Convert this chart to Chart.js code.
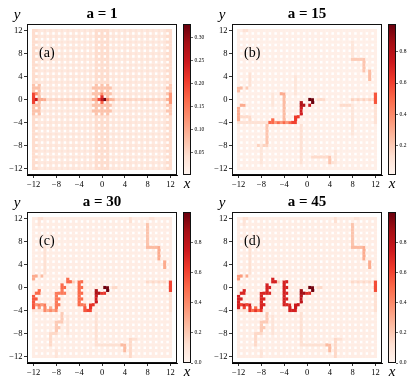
<!DOCTYPE html>
<html><head><meta charset="utf-8">
<script src="https://cdn.jsdelivr.net/npm/chart.js@4/dist/chart.umd.min.js"></script>
<style>
html,body{margin:0;padding:0;background:#fff;width:415px;height:389px;overflow:hidden}
canvas{position:absolute}
</style></head><body>
<canvas id="hA" width="207" height="195" style="left:0;top:0"></canvas>
<canvas id="cA" width="24" height="195" style="left:183px;top:0"></canvas>
<canvas id="hB" width="207" height="195" style="left:205px;top:0"></canvas>
<canvas id="cB" width="27" height="195" style="left:388px;top:0"></canvas>
<canvas id="hC" width="207" height="195" style="left:0;top:188px"></canvas>
<canvas id="cC" width="24" height="195" style="left:183px;top:188px"></canvas>
<canvas id="hD" width="207" height="195" style="left:205px;top:188px"></canvas>
<canvas id="cD" width="27" height="195" style="left:388px;top:188px"></canvas>
<script>
// ---- axis ticks ----
const axisTicks = [-12, -8, -4, 0, 4, 8, 12];
const titles = ['a = 1', 'a = 15', 'a = 30', 'a = 45'];
const panelTags = ['(a)', '(b)', '(c)', '(d)'];
// colour-bar ranges and ticks
const cbarRangeA = [0.0, 0.33];
const cbarRangeB = [0.013, 0.977];
const cbarRangeC = [0.0, 1.0];
const cbarRangeD = [0.0, 1.0];
const cbarTicksA = [0.05, 0.10, 0.15, 0.20, 0.25, 0.30];
const cbarTicksB = [0.2, 0.4, 0.6, 0.8];
const cbarTicksC = [0.0, 0.2, 0.4, 0.6, 0.8];
const cbarTicksD = [0.0, 0.2, 0.4, 0.6, 0.8];
// background values [site, bond]
const backgroundA = [0.033, 0.024];
const backgroundB = [0.05, 0.045];
const backgroundC = [0.05, 0.045];
const backgroundD = [0.05, 0.045];
// read-off regions: [x0, y0, x1, y1, value, (bond value)]
const regionsA = [
  [-12,-12,-11.5,12,0.045],[-1,-12,1,12,0.045],[11.5,-12,12,12,0.045],
  [-12,0,12,0,0.055,0.045],
  [-12,-2.5,-11,2.5,0.075],[-1.5,-2.5,1.5,2.5,0.075],[11.5,-2.5,12,2.5,0.07],
  [-12,-0.5,-12,1,0.2],[-11.5,0,-11.5,0,0.25],[-11,0,-10,0,0.1],[-11.5,1,-11.5,1,0.13],
  [-1.5,0,-1,0,0.1],[-0.5,0,-0.5,0,0.2],[0,0,0,0,0.26],[0.5,0,0.5,0,0.32],
  [0,0.5,0,0.5,0.22],[0,1,0,1,0.13],[0,-0.5,0,-0.5,0.17],[1,0,1,0,0.15],[1.5,0,2,0,0.09],
  [12,-0.5,12,1,0.12],[11.5,0,11.5,0,0.09]
];
const regionsB = [
  [-11,12,-10.5,12,0.12],[-10,2.5,-10,4.5,0.12],[-12,1.5,-11.5,2,0.25],[-10.5,2,-10.5,2,0.2],
  [-11.5,-1,-11,-1,0.3],[-12,-3.5,-12,-1.5,0.3],[-11.5,-3,-10.5,-3,0.15],
  [-12,-4,-6.5,-4,0.12],[-10,-3.5,-10,-3,0.15],[-4,-4,-4,1,0.25],[-4.5,1,-4,1,0.3],
  [-7,-8,-7,-4.5,0.22],[-8.5,-8,-7,-8,0.18],[-8,-11,-8,-8,0.1],[-1,-11,-1,-4.5,0.12],
  [1,-10,3.5,-10,0.15],[4,-11,4,-10,0.22],[4.5,-11,5,-11,0.12],[5,-11,5,-9,0.1],
  [8,7,9.5,7,0.2],[10,5,10,7,0.22],[11,3.5,11,5,0.25],[12,-0.5,12,1,0.55],
  [8,0,11.5,0,0.18,0.12],[6,-1,7.5,-1,0.15],[8,-6,8,-1,0.1],[12,-4,12,-1,0.12],
  [8,7.5,8,10,0.1],[2,0,3,0,0.15],[-2,1,-2,4,0.1],[-6,-1,-6,1,0.1],
  [-6,-4,-2.5,-4,0.5,0.35],[-6.5,-4,-6,-3.5,0.5],[-2.5,-4,-2,-4,0.6],[-2,-3.5,-1.5,-3,0.62],
  [-1,-2.5,-1,-1.5,0.72],[-1,-1,-0.5,-0.5,0.82],[0.5,-1,0.5,-1,0.75],[0.5,-0.5,1,0,0.97]
];
const regionsC = [
  [-11,12,-10.5,12,0.12],[-11,11,-11,11.5,0.1],[-10,2.5,-10,7,0.12],
  [-12,1.5,-11.5,2,0.3],[-10.5,2,-10.5,2,0.25],[-12,-4,-10.5,-4,0.1],
  [-7,-6,-7,-4.5,0.2],[-8,-7.5,-7.5,-6,0.2],[-9,-10,-9,-8,0.15],[-8.5,-8,-8,-8,0.15],
  [-8,-12,-8,-11,0.1],[-1,-10,-1,-4.5,0.12],[-1,-10,3,-10,0.12],[3.5,-10,4,-10,0.25],
  [4,-11,4,-10.5,0.25],[5,-12,5,-9,0.15],[5.5,-9,6,-9,0.12],
  [8,7.5,8,11,0.22],[8.5,12,9,12,0.1],[8,7,9.5,7,0.25],[10,5,10,7,0.3],[11,3.5,11,4.5,0.3],
  [8,1,11,1,0.15,0.1],[12,-0.5,12,1,0.6],[12,-4,12,-1,0.12],[5,11.5,5,12,0.12],[2,0,2.5,0,0.15],
  [-5,1,-5,1,0.2],[-6,-8,-6,-5,0.1],
  [-12,-3.5,-11.5,-1.5,0.55],[-11.5,-1,-11,-0.5,0.5],[-11.5,-3.5,-10,-3,0.45,0.35],[-10,-4,-9.5,-3.5,0.4],
  [-9.5,-4,-8,-3.5,0.4,0.3],[-8,-3.5,-7.5,-2,0.45],[-8,-1.5,-7.5,-1,0.45],[-7,-1,-6.5,-0.5,0.45],
  [-7,0,-6.5,0.5,0.5],[-6,1,-5.5,1.5,0.5],
  [-4,-3,-3.5,1,0.5],[-3.5,-3.5,-3,-3,0.45],[-3,-4,-2.5,-3.5,0.55],
  [-2.5,-4,-2,-3.5,0.6],[-2,-3.5,-1.5,-3,0.65],[-1,-2.5,-1,-1.5,0.75],[-1,-1,-0.5,-0.5,0.85],
  [0,-1,0.5,-1,0.65],[0.5,-0.5,1,0,0.98]
];
const regionsD = [
  [-11,12,-10.5,12,0.12],[-11,11,-11,11.5,0.1],[-10,2.5,-10,7,0.12],
  [-12,1.5,-11.5,2,0.35],[-10.5,2,-10.5,2,0.3],[-12,-4,-10.5,-4,0.1],
  [-7,-6,-7,-4.5,0.2],[-8,-7.5,-7.5,-6,0.2],[-9,-10,-9,-8,0.15],[-8.5,-8,-8,-8,0.15],
  [-8,-12,-8,-11,0.1],[-1,-10,-1,-4.5,0.12],[-1,-10,3,-10,0.12],[3.5,-10,4,-10,0.25],
  [4,-11,4,-10.5,0.25],[5,-12,5,-9,0.15],[5.5,-9,6,-9,0.12],
  [8,7.5,8,11,0.22],[8.5,12,9,12,0.1],[8,7,9.5,7,0.25],[10,5,10,7,0.3],[11,3.5,11,4.5,0.3],
  [8,1,11,1,0.15,0.1],[12,-0.5,12,1,0.58],[12,-4,12,-1,0.12],[5,11.5,5,12,0.12],[2,0,2.5,0,0.15],
  [-5,1,-5,1,0.2],[-6,-8,-6,-5,0.1],
  [-12,-3.5,-11.5,-1.5,0.72],[-11.5,-1,-11,-0.5,0.7],[-11.5,-3.5,-10,-3,0.72,0.6],[-10,-4,-9.5,-3.5,0.65],
  [-9.5,-4,-8,-3.5,0.65,0.5],[-8,-3.5,-7.5,-2,0.7],[-8,-1.5,-7.5,-1,0.7],[-7,-1,-6.5,-0.5,0.7],
  [-7,0,-6.5,0.5,0.72],[-6,1,-5.5,1.5,0.72],
  [-4,-3,-3.5,1,0.72],[-3.5,-3.5,-3,-3,0.7],[-3,-4,-2.5,-3.5,0.72],
  [-2.5,-4,-2,-3.5,0.72],[-2,-3.5,-1.5,-3,0.75],[-1,-2.5,-1,-1.5,0.8],[-1,-1,-0.5,-0.5,0.88],
  [0,-1,0.5,-1,0.68],[0.5,-0.5,1,0,0.98]
];

// ---- matplotlib "Reds" colormap anchors ----
const reds = [[255,245,240],[254,224,210],[252,187,161],[252,146,114],[251,106,74],[239,59,44],[203,24,29],[165,15,21],[103,0,13]];
function redsColor(t) {
  t = Math.max(0, Math.min(1, t));
  const p = t * (reds.length - 1), i = Math.min(reds.length - 2, Math.floor(p)), f = p - i;
  const c = reds[i].map((a, k) => Math.round(a + (reds[i + 1][k] - a) * f));
  return `rgb(${c[0]},${c[1]},${c[2]})`;
}
function buildCells(bg, regions, range) {
  const key = (x, y) => x.toFixed(1) + ',' + y.toFixed(1);
  const val = new Map();
  for (let i = 0; i <= 48; i++) for (let j = 0; j <= 48; j++) {
    if (i % 2 && j % 2) continue;
    const x = -12 + i / 2, y = -12 + j / 2;
    val.set(key(x, y), (i % 2 || j % 2) ? bg[1] : bg[0]);
  }
  for (const r of regions) {
    const [x0, y0, x1, y1, v, vb] = r;
    for (let x = x0; x <= x1 + 1e-9; x += 0.5) for (let y = y0; y <= y1 + 1e-9; y += 0.5) {
      const k = key(x, y);
      if (!val.has(k)) continue;
      const bond = (Math.abs(x % 1) > 0.1) || (Math.abs(y % 1) > 0.1);
      val.set(k, (bond && vb !== undefined) ? vb : v);
    }
  }
  const pts = [], cols = [];
  for (const [k, v] of val) {
    const [x, y] = k.split(',').map(Number);
    pts.push({x, y});
    cols.push(redsColor((v - range[0]) / (range[1] - range[0])));
  }
  return {pts, cols};
}
const fmt = v => (v < 0 ? '\u2212' + Math.abs(v) : String(v));
const serif = '"Liberation Serif", "DejaVu Serif", serif';

function heatChart(id, idx, bg, regions, range) {
  const {pts, cols} = buildCells(bg, regions, range);
  const cellR = c => {
    const s = c.chart.scales.x;
    return (Math.abs(s.getPixelForValue(0.5) - s.getPixelForValue(0)) + 0.35) / Math.SQRT2;
  };
  const axis = (isX) => ({
    type: 'linear', min: -13.15, max: 13.15,
    afterBuildTicks: s => { s.ticks = axisTicks.map(v => ({value: v})); },
    afterFit: s => { if (isX) s.height = 20; else s.width = 27; },
    ticks: {font: {family: serif, size: 8.5}, color: '#000', padding: 1.5, maxRotation: 0, autoSkip: false, callback: fmt},
    grid: {display: true, drawOnChartArea: false, drawTicks: true, tickLength: 3, color: '#000', lineWidth: 0.8},
    border: {display: true, color: '#000', width: 1}
  });
  const deco = {
    id: 'deco' + idx,
    afterDraw(chart) {
      const {ctx, chartArea: a} = chart;
      ctx.save();
      ctx.strokeStyle = '#111'; ctx.lineWidth = 1;
      ctx.strokeRect(a.left + 0.5, a.top + 0.5, a.right - a.left - 1, a.bottom - a.top - 1);
      ctx.fillStyle = '#000';
      ctx.textAlign = 'center'; ctx.textBaseline = 'middle';
      ctx.font = 'bold 15px ' + serif;
      ctx.fillText(titles[idx], (a.left + a.right) / 2, 14);
      ctx.font = 'italic 15px ' + serif;
      ctx.fillText('y', 17, 15);
      ctx.fillText('x', 187, 184);
      ctx.font = '14px ' + serif;
      ctx.textAlign = 'left';
      ctx.fillText(panelTags[idx], 39, 53);
      ctx.restore();
    }
  };
  return new Chart(document.getElementById(id), {
    type: 'scatter',
    data: {datasets: [{data: pts, backgroundColor: cols, pointStyle: 'rect', pointRadius: cellR, pointHoverRadius: cellR, borderWidth: 0, pointBorderWidth: 0}]},
    options: {
      responsive: false, animation: false, events: [],
      layout: {padding: {top: 24, right: 30, left: 0, bottom: 0}},
      scales: {x: axis(true), y: axis(false)},
      plugins: {legend: {display: false}, tooltip: {enabled: false}, title: {display: false}}
    },
    plugins: [deco]
  });
}

function cbarChart(id, range, ticks, dec) {
  const grad = c => {
    const {ctx, chartArea: a} = c.chart;
    if (!a) return '#f00';
    const g = ctx.createLinearGradient(0, a.bottom, 0, a.top);
    reds.forEach((col, i) => g.addColorStop(i / (reds.length - 1), `rgb(${col[0]},${col[1]},${col[2]})`));
    return g;
  };
  const frame = {
    id: 'frame',
    afterDraw(chart) {
      const {ctx, chartArea: a} = chart;
      ctx.save(); ctx.strokeStyle = '#111'; ctx.lineWidth = 1;
      ctx.strokeRect(a.left + 0.5, a.top + 0.5, a.right - a.left - 1, a.bottom - a.top - 1);
      ctx.restore();
    }
  };
  return new Chart(document.getElementById(id), {
    type: 'bar',
    data: {labels: [''], datasets: [{data: [[range[0], range[1]]], backgroundColor: grad, borderWidth: 0, barPercentage: 1, categoryPercentage: 1}]},
    options: {
      responsive: false, animation: false, events: [],
      layout: {padding: {top: 24, bottom: 20, left: 0, right: 0}},
      scales: {
        x: {display: false},
        y: {position: 'right', min: range[0], max: range[1],
            afterBuildTicks: s => { s.ticks = ticks.map(v => ({value: v})); },
            afterFit: s => { s.width = (document.getElementById(id).width - 8); },
            ticks: {font: {family: serif, size: 5.5}, color: '#000', padding: 1.5, callback: v => v.toFixed(dec)},
            grid: {display: true, drawOnChartArea: false, tickLength: 2, color: '#000', lineWidth: 0.6},
            border: {display: false}}
      },
      plugins: {legend: {display: false}, tooltip: {enabled: false}}
    },
    plugins: [frame]
  });
}

heatChart('hA', 0, backgroundA, regionsA, cbarRangeA);
heatChart('hB', 1, backgroundB, regionsB, cbarRangeB);
heatChart('hC', 2, backgroundC, regionsC, cbarRangeC);
heatChart('hD', 3, backgroundD, regionsD, cbarRangeD);
cbarChart('cA', cbarRangeA, cbarTicksA, 2);
cbarChart('cB', cbarRangeB, cbarTicksB, 1);
cbarChart('cC', cbarRangeC, cbarTicksC, 1);
cbarChart('cD', cbarRangeD, cbarTicksD, 1);
</script>
</body></html>
